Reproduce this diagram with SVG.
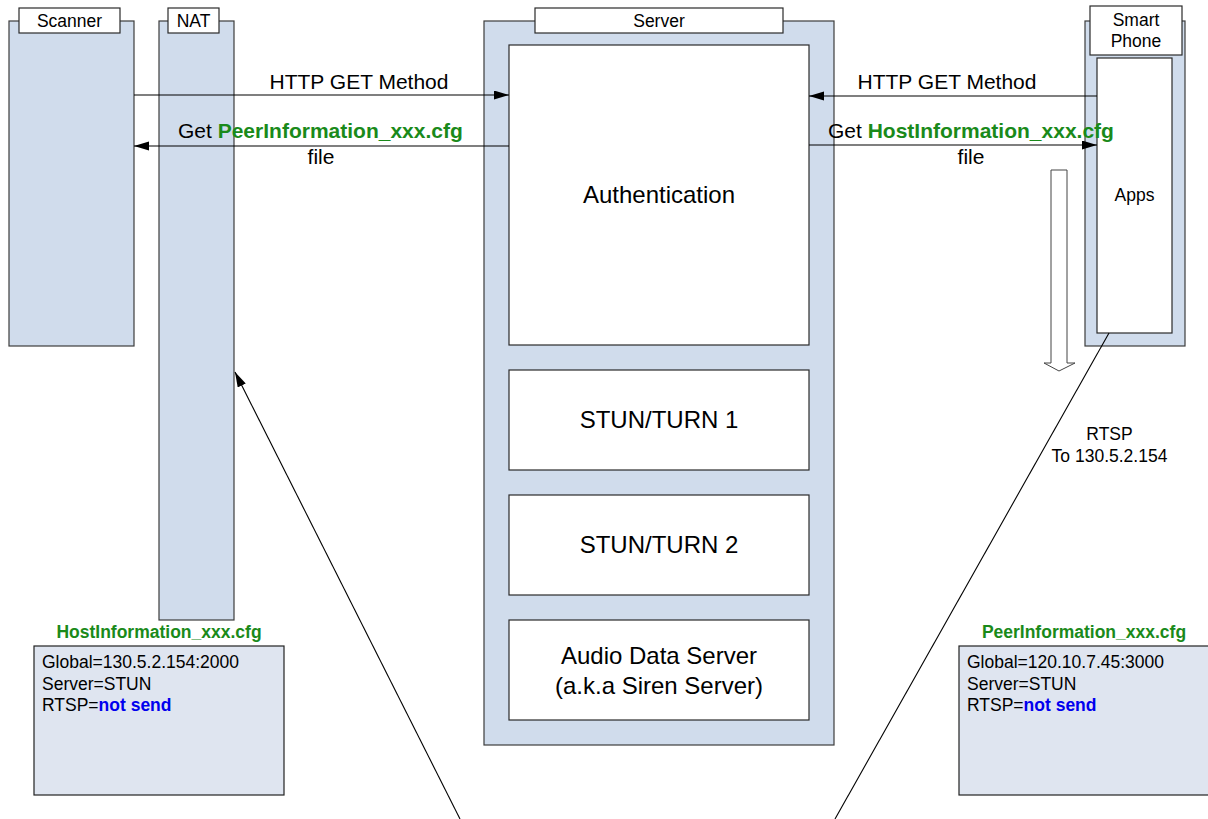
<svg xmlns="http://www.w3.org/2000/svg" width="1208" height="819" viewBox="0 0 1208 819">
<style>
text{font-family:"Liberation Sans",Arial,sans-serif;fill:#000}
.body{fill:#d0dcec;stroke:#3c3c3c;stroke-width:1.2}
.tab{fill:#fff;stroke:#2a2a2a;stroke-width:1.2}
.inner{fill:#fff;stroke:#2a2a2a;stroke-width:1.2}
.cfg{fill:#dfe5f0;stroke:#222;stroke-width:1.2}
.sm{font-size:17.5px}
.big{font-size:24px}
.mid{font-size:21px}
.g{fill:#1a8a1a;font-weight:bold}
.b{fill:#0000ee;font-weight:bold}
.ln{stroke:#000;stroke-width:1.1;fill:none}
</style>
<defs>
<marker id="ah" markerUnits="userSpaceOnUse" markerWidth="16" markerHeight="10" refX="15" refY="4.5" orient="auto">
<path d="M0,0 L15,4.5 L0,9 z" fill="#000"/>
</marker>
</defs>

<g id="scanner">
<rect class="body" x="9" y="21" width="125" height="325"/>
<rect class="tab" x="19" y="8" width="101" height="25"/>
<text class="sm" x="69.5" y="27" text-anchor="middle">Scanner</text>
</g>

<g id="nat">
<rect class="body" x="159" y="21" width="75" height="599"/>
<rect class="tab" x="168" y="8" width="51" height="25"/>
<text class="sm" x="193.5" y="27" text-anchor="middle">NAT</text>
</g>

<g id="server">
<rect class="body" x="484" y="21" width="350" height="724"/>
<rect class="tab" x="535" y="8" width="248" height="25"/>
<text class="sm" x="659" y="27" text-anchor="middle">Server</text>
<g id="authentication">
<rect class="inner" x="509" y="45" width="300" height="300"/>
<text class="big" x="659" y="203" text-anchor="middle">Authentication</text>
</g>
<g id="stun1">
<rect class="inner" x="509" y="370" width="300" height="100"/>
<text class="big" x="659" y="428" text-anchor="middle">STUN/TURN 1</text>
</g>
<g id="stun2">
<rect class="inner" x="509" y="495" width="300" height="100"/>
<text class="big" x="659" y="553" text-anchor="middle">STUN/TURN 2</text>
</g>
<g id="audio">
<rect class="inner" x="509" y="620" width="300" height="100"/>
<text class="big" x="659" y="664" text-anchor="middle">Audio Data Server</text>
<text class="big" x="659" y="694" text-anchor="middle">(a.k.a Siren Server)</text>
</g>
</g>

<g id="smartphone">
<rect class="body" x="1085" y="21" width="100" height="325"/>
<rect class="tab" x="1090" y="6" width="92" height="49"/>
<text class="sm" x="1136" y="26" text-anchor="middle">Smart</text>
<text class="sm" x="1136" y="47" text-anchor="middle">Phone</text>
<g id="apps">
<rect class="inner" x="1097" y="58" width="75" height="275"/>
<text class="sm" x="1134.5" y="201" text-anchor="middle">Apps</text>
</g>
</g>

<g id="hostcfg">
<text class="sm g" x="159" y="638" text-anchor="middle">HostInformation_xxx.cfg</text>
<rect class="cfg" x="34" y="646" width="250" height="149"/>
<text class="sm" x="42" y="668">Global=130.5.2.154:2000</text>
<text class="sm" x="42" y="690">Server=STUN</text>
<text class="sm" x="42" y="711">RTSP=<tspan class="b">not send</tspan></text>
</g>

<g id="peercfg">
<text class="sm g" x="1084" y="638" text-anchor="middle">PeerInformation_xxx.cfg</text>
<rect class="cfg" x="959" y="646" width="250" height="149"/>
<text class="sm" x="967" y="668">Global=120.10.7.45:3000</text>
<text class="sm" x="967" y="690">Server=STUN</text>
<text class="sm" x="967" y="711">RTSP=<tspan class="b">not send</tspan></text>
</g>

<g id="connectors">
<line class="ln" x1="134" y1="95" x2="509" y2="95" marker-end="url(#ah)"/>
<line class="ln" x1="509" y1="146" x2="134" y2="146" marker-end="url(#ah)"/>
<line class="ln" x1="1097" y1="96" x2="809" y2="96" marker-end="url(#ah)"/>
<line class="ln" x1="809" y1="145" x2="1097" y2="145" marker-end="url(#ah)"/>
<line class="ln" x1="460" y1="819" x2="235" y2="372" marker-end="url(#ah)"/>
<line class="ln" x1="1109" y1="333" x2="835" y2="819"/>
<polygon points="1051,170 1067,170 1067,363 1075,363 1059,371 1044,363 1051,363" fill="#fff" stroke="#444" stroke-width="1"/>
<text class="mid" x="359" y="89" text-anchor="middle">HTTP GET Method</text>
<text class="mid" x="178" y="138">Get <tspan class="g">PeerInformation_xxx.cfg</tspan></text>
<text class="mid" x="321" y="164" text-anchor="middle">file</text>
<text class="mid" x="947" y="89" text-anchor="middle">HTTP GET Method</text>
<text class="mid" x="828" y="138">Get <tspan class="g">HostInformation_xxx.cfg</tspan></text>
<text class="mid" x="971" y="164" text-anchor="middle">file</text>
<text class="sm" x="1109.5" y="440" text-anchor="middle">RTSP</text>
<text class="sm" x="1109.5" y="462" text-anchor="middle">To 130.5.2.154</text>
</g>
</svg>
